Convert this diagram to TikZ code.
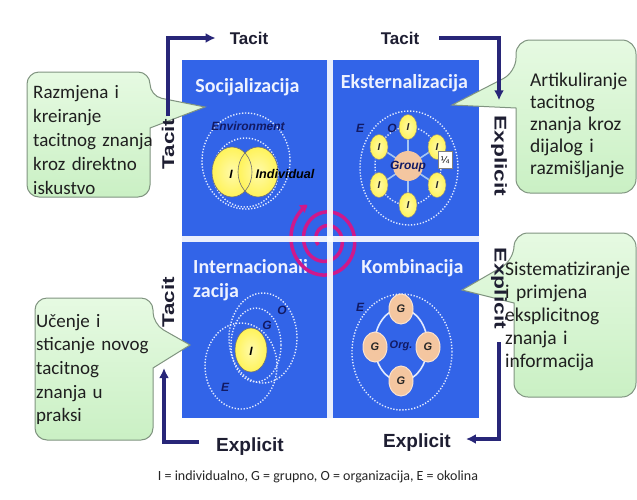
\documentclass[tikz,border=0pt]{standalone}
\usepackage{fontspec}
\usepackage{graphicx}
\usetikzlibrary{arrows.meta,shapes.geometric}
\newfontfamily\calfont{Carlito}
\newfontfamily\arfont{Liberation Sans}
\definecolor{qblue}{RGB}{50,100,232}
\definecolor{navy}{RGB}{40,38,120}
\definecolor{lblnavy}{RGB}{18,26,100}
\definecolor{bubtop}{RGB}{230,250,226}
\definecolor{bubbot}{RGB}{202,240,196}
\definecolor{bubdraw}{RGB}{128,148,128}
\definecolor{yel}{RGB}{255,243,90}
\definecolor{yellight}{RGB}{255,250,170}
\definecolor{peach}{RGB}{244,198,160}
\definecolor{mag}{RGB}{205,25,140}
\definecolor{titlec}{RGB}{238,242,255}
\definecolor{spokec}{RGB}{165,198,242}
\definecolor{ringc}{RGB}{226,234,255}
\definecolor{axtext}{RGB}{30,30,50}
\begin{document}
\begin{tikzpicture}[x=1pt,y=-1pt,
  dotring/.style={draw=ringc, dash pattern=on 1.3pt off 1.7pt, line width=1.4pt},
  bubble/.style={draw=bubdraw, line width=1pt, top color=bubtop, bottom color=bubbot},
  bubtext/.style={font=\calfont\fontsize{19}{23.5}\selectfont, text width=140pt, align=left, inner sep=0pt, anchor=base west, text=black!88},
  axlbl/.style={font=\arfont\bfseries\fontsize{17}{20}\selectfont, text=axtext, inner sep=0pt},
  arr/.style={draw=navy, line width=3.3pt, -{Latex[length=10pt,width=10pt]}},
  qtitle/.style={font=\calfont\bfseries\fontsize{20}{24}\selectfont, text=titlec, inner sep=0pt},
  lbl/.style={font=\arfont\bfseries\itshape\fontsize{12}{14}\selectfont, text=lblnavy, inner sep=0pt},
  yedge/.style={draw=black!55, line width=0.6pt},
  iell/.style={ellipse, inner color=yellight, outer color=yel, draw=black!45, line width=0.5pt, minimum width=18pt, minimum height=25pt, inner sep=0pt, font=\arfont\bfseries\itshape\fontsize{10}{12}\selectfont, text=black!85},
  gcirc/.style={ellipse, fill=peach, draw=peach!50!white, line width=1pt, minimum width=24pt, minimum height=30pt, inner sep=0pt, font=\arfont\bfseries\itshape\fontsize{11}{13}\selectfont, text=black!85},
  spokeline/.style={draw=spokec, line width=1.6pt}
]
\useasboundingbox (0,0) rectangle (637,499);
\fill[white] (0,0) rectangle (637,499);

% blue square
\fill[qblue] (182,60) rectangle (479,418);

% ---------- Socijalizacija ----------
\draw[dotring] (246,161) ellipse [x radius=44pt, y radius=48pt];
\draw[dotring] (245.5,172.5) ellipse [x radius=32.5pt, y radius=34.5pt];
\shade[inner color=yellight, outer color=yel] (232,172) ellipse [x radius=20pt, y radius=25pt];
\shade[inner color=yellight, outer color=yel] (258,172) ellipse [x radius=20pt, y radius=25pt];
\draw[yedge] (232,172) ellipse [x radius=20pt, y radius=25pt];
\draw[yedge] (258,172) ellipse [x radius=20pt, y radius=25pt];
\node[lbl] (env) at (248,126) {Environment};
\node[lbl, text=black] (socI) at (231,174) {I};
\node[lbl, text=black, font=\arfont\bfseries\itshape\fontsize{12.6}{14}\selectfont] (socind) at (285,174) {Individual};
\node[qtitle, anchor=base] (tsoc) at (247.5,92) {Socijalizacija};

% ---------- Eksternalizacija ----------
\draw[dotring] (409,168) ellipse [x radius=49pt, y radius=57pt];
\coordinate (gc) at (408,166);
\coordinate (e1) at (408,127);
\coordinate (e2) at (437,147);
\coordinate (e3) at (437,185);
\coordinate (e4) at (408,205);
\coordinate (e5) at (379,185);
\coordinate (e6) at (379,147);
\draw[dotring] (gc) ellipse [x radius=33pt, y radius=39pt];
\foreach \k in {1,...,6} \draw[spokeline] (gc) -- (e\k);
\node[circle, fill=peach, minimum size=30pt, inner sep=0pt] (grp) at (gc) {};
\foreach \k in {1,...,6} \node[iell] (ie\k) at (e\k) {I};
\node[lbl] (grplbl) at (408,167) {Group};
\node[lbl] (extE) at (360,128) {E};
\node[lbl] (extO) at (392,128) {O};
\node[draw=black!50, fill=white, line width=0.5pt, minimum width=14pt, minimum height=17pt, inner sep=0pt, font=\arfont\fontsize{10}{12}\selectfont] (frac) at (445,160) {¼};
\node[qtitle, anchor=base] (teks) at (404.5,88) {Eksternalizacija};

% ---------- Internacionalizacija ----------
\draw[dotring] (263,338) ellipse [x radius=34pt, y radius=45pt];
\draw[dotring] (256,345) ellipse [x radius=25pt, y radius=37pt];
\draw[dotring] (241,366) ellipse [x radius=36pt, y radius=43pt];
\shade[inner color=yellight, outer color=yel] (251,350) ellipse [x radius=16pt, y radius=22pt];
\draw[yedge] (251,350) ellipse [x radius=16pt, y radius=22pt];
\node[lbl, text=black] (intI) at (251,351) {I};
\node[lbl] (intO) at (282,310) {O};
\node[lbl] (intG) at (267,325) {G};
\node[lbl] (intE) at (225,387) {E};
\node[qtitle, anchor=base west] (tint1) at (193,273) {Internacionali};
\node[qtitle, anchor=base west] (tint2) at (193,297) {zacija};

% ---------- Kombinacija ----------
\draw[dotring] (402,352) ellipse [x radius=50pt, y radius=58pt];
\draw[draw=ringc, line width=1.6pt] (401,345) ellipse [x radius=26.5pt, y radius=36pt];
\node[gcirc] (g1) at (401,309) {G};
\node[gcirc] (g2) at (428,347) {G};
\node[gcirc] (g3) at (401,381) {G};
\node[gcirc] (g4) at (375,347) {G};
\node[lbl, font=\arfont\bfseries\itshape\fontsize{11}{13}\selectfont] (org) at (401,346) {Org.};
\node[lbl] (komE) at (360,307) {E};
\node[qtitle, anchor=base] (tkom) at (412.5,273) {Kombinacija};

% ---------- spiral ----------
\draw[mag, line width=3.5pt, -{Triangle[length=7pt,width=9pt]}]
  plot[domain=-570:240, samples=220, smooth]
  ({326 + (37+12.5*(\x-240)/360)*cos(\x)}, {240 + 1.1*(37+12.5*(\x-240)/360)*sin(\x)});

% white cross
\fill[white, opacity=0.9] (327,60) rectangle (333,418);
\fill[white, opacity=0.9] (182,236) rectangle (479,242);

% ---------- callouts ----------
\path[bubble] (150,128) [rounded corners=12pt] -- (150,197) -- (27,197) -- (27,72) -- (150,72) -- (150,96) [sharp corners] -- (205,107) -- cycle;
\path[bubble] (516,108) [rounded corners=14pt] -- (516,193) -- (636,193) -- (636,40) -- (516,40) -- (516,72) [sharp corners] -- (452,105) -- cycle;
\path[bubble] (153,368) [rounded corners=12pt] -- (153,440) -- (35,440) -- (35,298) -- (153,298) -- (153,324) [sharp corners] -- (190,345) -- cycle;
\path[bubble] (514,303) [rounded corners=14pt] -- (514,397) -- (636,397) -- (636,233) -- (514,233) -- (514,260) [sharp corners] -- (462,290) -- cycle;

\node[bubtext, font=\calfont\fontsize{19}{24}\selectfont] (ctl) at (33,98) {Razmjena i\\kreiranje\\tacitnog znanja\\kroz direktno\\iskustvo};
\node[bubtext, font=\calfont\fontsize{19.5}{22}\selectfont] (ctr) at (530,86) {Artikuliranje\\tacitnog\\znanja kroz\\dijalog i\\razmišljanje};
\node[bubtext, font=\calfont\fontsize{19}{23.7}\selectfont] (cbl) at (36,327) {Učenje i\\sticanje novog\\tacitnog\\znanja u\\praksi};
\node[bubtext, font=\calfont\fontsize{19.5}{23}\selectfont] (cbr) at (505,275) {Sistematiziranje\\i primjena\\eksplicitnog\\znanja i\\informacija};

% ---------- axis labels and arrows ----------
\node[axlbl] (tlt) at (249,38) {Tacit};
\node[axlbl] (trt) at (400,38) {Tacit};
\node[axlbl, rotate=90] (tlv) at (168,144) {\scalebox{1.32}[1]{Tacit}};
\node[axlbl, rotate=90] (blv) at (168,302.5) {\scalebox{1.32}[1]{Tacit}};
\node[axlbl, rotate=-90] (trv) at (499,156) {\scalebox{1.34}[1]{Explicit}};
\node[axlbl, rotate=-90] (brv) at (499,288.5) {\scalebox{1.34}[1]{Explicit}};
\node[axlbl, font=\arfont\bfseries\fontsize{19}{22}\selectfont] (blb) at (250,447) {Explicit};
\node[axlbl, font=\arfont\bfseries\fontsize{19}{22}\selectfont] (brb) at (417,443) {Explicit};

\draw[arr, shorten <=2pt] (tlv.east) |- ([xshift=-14pt]tlt.west);
\draw[arr, shorten <=20pt, shorten >=15pt] (trt.east) -| (trv.west);
\draw[arr, shorten <=17pt, shorten >=40pt] ([yshift=5pt]blb.west) -| ([xshift=-4pt]blv.west);
\draw[arr, shorten <=13pt, shorten >=15pt] (brv.east) |- ([yshift=4pt]brb.east);

% legend
\node[font=\calfont\fontsize{14}{16}\selectfont, text=black!85, inner sep=0pt] (legend) at (318,477) {I = individualno, G = grupno, O = organizacija, E = okolina};
\end{tikzpicture}
\end{document}
